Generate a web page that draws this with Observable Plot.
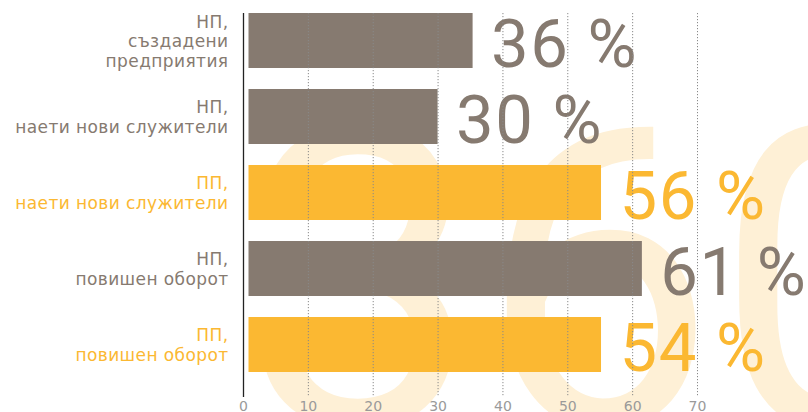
<!DOCTYPE html>
<html>
<head>
<meta charset="utf-8">
<script src="https://cdn.jsdelivr.net/npm/d3@7"></script>
<script src="https://cdn.jsdelivr.net/npm/@observablehq/plot@0.6"></script>
<style>
  html, body { margin: 0; padding: 0; background: #fff; }
  #chart svg { display: block; overflow: hidden; }
</style>
</head>
<body>
<div id="chart"></div>
<script>
// ---- data ----
const categories = [
  "НП,\nсъздадени\nпредприятия",
  "НП,\nнаети нови служители",
  "ПП,\nнаети нови служители",
  "НП,\nповишен оборот",
  "ПП,\nповишен оборот"
];
const groups = ["НП", "НП", "ПП", "НП", "ПП"];
const barLengths = [35.4, 30, 55.2, 61.5, 55.2];
const valueLabels = ["36 %", "30 %", "56 %", "61 %", "54 %"];
const xTicks = [0, 10, 20, 30, 40, 50, 60, 70];
const watermark = "360";

const groupColors = {"НП": "#867a70", "ПП": "#fbb832"};

const rows = categories.map((c, i) => ({
  category: c, group: groups[i], value: barLengths[i], label: valueLabels[i]
}));

const labelFont = "'DejaVu Sans', sans-serif";
const numberFont = "Roboto, 'Open Sans', sans-serif";

const chart = Plot.plot({
  width: 808,
  height: 412,
  marginLeft: 243,
  marginRight: 111,
  marginTop: 13,
  marginBottom: 15,
  style: {fontFamily: labelFont, fontSize: "13px", background: "#fff", overflow: "hidden"},
  x: {domain: [0, 70], label: null},
  y: {domain: categories, paddingInner: 0.27, paddingOuter: 0.13, align: 0, axis: null},
  color: {domain: Object.keys(groupColors), range: Object.values(groupColors)},
  marks: [
    // faint background figure
    Plot.text([watermark], {
      frameAnchor: "top-left", text: d => d, textAnchor: "start", lineAnchor: "top",
      dy: 114, dx: 0, fontSize: 420, fontFamily: numberFont, fill: "#fef0d6"
    }),
    // bars
    Plot.barX(rows, {x: "value", y: "category", fill: "group", insetLeft: 5.5}),
    // category labels
    Plot.text(rows, {
      x: 0, y: "category", text: "category", fill: "group",
      textAnchor: "end", lineAnchor: "middle", dx: -15, fontSize: 17, lineHeight: 1.15,
      fontFamily: labelFont
    }),
    // big value labels
    Plot.text(rows, {
      x: "value", y: "category", text: "label", fill: "group",
      textAnchor: "start", lineAnchor: "middle", dx: 18, dy: 5,
      fontSize: 67, fontWeight: 400, fontFamily: numberFont
    }),
    // dotted grid on top
    Plot.ruleX(xTicks.filter(d => d > 0), {stroke: "#8a8a8a", strokeWidth: 1, strokeDasharray: "1.2,1.8"}),
    // zero line
    Plot.ruleX([0], {stroke: "#222", strokeWidth: 1.3}),
    // x axis tick labels
    Plot.axisX(xTicks, {
      tickSize: 0, tickPadding: 3.5, tickFormat: d => String(d),
      fill: "#9a9a9a", fontSize: 14, fontFamily: labelFont, label: null
    })
  ]
});

// letter spacing for category labels and value labels
chart.querySelectorAll("text").forEach(t => {
  const fs = t.getAttribute("font-size");
  if (/[а-я]/i.test(t.textContent) && fs !== "67") t.style.letterSpacing = "0.4px";
});
chart.querySelectorAll("g[font-size='67'] text").forEach(t => t.style.letterSpacing = "1.5px");

document.getElementById("chart").appendChild(chart);
</script>
</body>
</html>
